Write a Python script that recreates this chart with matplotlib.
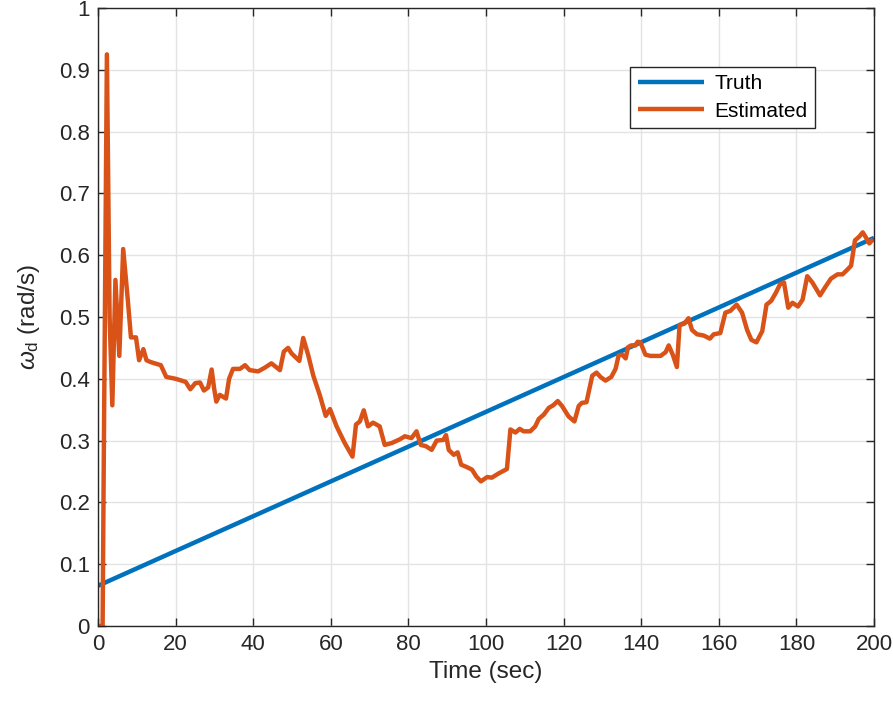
import numpy as np
import matplotlib
matplotlib.use("Agg")
import matplotlib.pyplot as plt

plt.rcParams['font.family'] = ['Liberation Sans', 'DejaVu Sans']
plt.rcParams['mathtext.fontset'] = 'custom'
plt.rcParams['mathtext.it'] = 'Liberation Sans:italic'
plt.rcParams['mathtext.rm'] = 'Liberation Sans'

# truth: straight ramp of the damped frequency
truth_t = [0, 200]
truth_w = [0.065, 0.628]

# estimated frequency
est_t = [0.0, 1.2, 1.5, 2.3, 3.0, 3.7, 4.5, 5.5, 6.5, 7.7, 8.5, 9.8, 10.6, 11.7,
         12.5, 13.6, 16.2, 17.6, 20.0, 22.6, 23.8, 25.1, 26.3, 27.3, 28.4, 29.3,
         29.9, 30.5, 31.4, 33.0, 33.8, 34.8, 36.6, 37.9, 39.1, 41.3, 43.0, 44.7,
         46.9, 47.9, 49.0, 49.9, 51.9, 52.9, 54.2, 55.5, 57.2, 58.7, 59.8, 61.5,
         63.6, 65.6, 66.5, 67.5, 68.5, 69.6, 70.9, 72.6, 73.9, 75.7, 77.8, 79.1,
         80.8, 82.1, 83.2, 84.5, 86.0, 87.3, 89.0, 89.7, 90.4, 91.7, 92.7, 93.6,
         95.1, 96.4, 97.5, 98.7, 100.3, 101.5, 103.3, 105.4, 106.3, 107.6, 108.7,
         109.7, 111.4, 112.7, 113.6, 114.9, 116.2, 117.3, 118.5, 119.6, 121.3,
         122.8, 123.9, 124.7, 125.9, 127.4, 128.5, 129.5, 130.8, 132.3, 133.4,
         134.2, 135.1, 136.0, 136.6, 137.4, 138.5, 139.1, 139.8, 141.1, 142.4,
         145.0, 146.3, 147.1, 148.2, 149.2, 149.9, 151.1, 152.2, 153.1, 154.4,
         156.1, 157.7, 158.7, 160.4, 161.7, 163.0, 164.6, 166.0, 167.3, 168.4,
         169.7, 171.2, 172.3, 173.5, 174.7, 175.8, 176.8, 177.9, 179.0, 180.4,
         181.6, 182.8, 184.1, 186.1, 187.3, 188.9, 190.6, 191.9, 193.2, 194.1,
         195.1, 196.2, 197.1, 197.9, 198.8, 199.8]
est_w = [0.0, 0.0, 0.27, 0.925, 0.50, 0.357, 0.56, 0.437, 0.61, 0.527, 0.467,
         0.467, 0.43, 0.448, 0.43, 0.427, 0.422, 0.403, 0.40, 0.395, 0.383, 0.393,
         0.394, 0.381, 0.386, 0.415, 0.386, 0.363, 0.374, 0.368, 0.40, 0.416,
         0.416, 0.422, 0.414, 0.412, 0.418, 0.425, 0.414, 0.444, 0.45, 0.441,
         0.429, 0.466, 0.438, 0.405, 0.373, 0.34, 0.351, 0.323, 0.296, 0.274,
         0.326, 0.331, 0.349, 0.323, 0.329, 0.323, 0.293, 0.296, 0.302, 0.307,
         0.304, 0.315, 0.293, 0.291, 0.285, 0.30, 0.301, 0.309, 0.285, 0.277,
         0.281, 0.261, 0.257, 0.253, 0.242, 0.234, 0.241, 0.24, 0.247, 0.254,
         0.318, 0.313, 0.319, 0.315, 0.315, 0.323, 0.335, 0.342, 0.353, 0.357,
         0.364, 0.356, 0.339, 0.331, 0.356, 0.361, 0.362, 0.405, 0.41, 0.403,
         0.397, 0.403, 0.416, 0.438, 0.439, 0.433, 0.451, 0.454, 0.454, 0.46,
         0.459, 0.439, 0.437, 0.437, 0.443, 0.454, 0.438, 0.419, 0.487, 0.489,
         0.498, 0.479, 0.472, 0.47, 0.465, 0.472, 0.474, 0.507, 0.51, 0.52,
         0.507, 0.479, 0.463, 0.459, 0.477, 0.52, 0.526, 0.539, 0.553, 0.556,
         0.515, 0.523, 0.517, 0.528, 0.566, 0.556, 0.535, 0.547, 0.562, 0.569,
         0.569, 0.577, 0.583, 0.624, 0.63, 0.637, 0.629, 0.619, 0.626]

fig = plt.figure(figsize=(8.93, 7.02), dpi=100)
ax = fig.add_axes([0.1097, 0.1083, 0.8690, 0.8803])

ax.plot(truth_t, truth_w, color="#0072BD", lw=3.2, label="Truth",
        solid_capstyle="butt")
ax.plot(est_t, est_w, color="#D95319", lw=3.2, label="Estimated",
        solid_joinstyle="round", solid_capstyle="butt")

ax.set_xlim(0, 200)
ax.set_ylim(0, 1)
ax.set_xticks(np.arange(0, 201, 20))
ax.set_yticks(np.arange(0, 1.01, 0.1))
ax.set_yticklabels(["0", "0.1", "0.2", "0.3", "0.4", "0.5", "0.6", "0.7",
                    "0.8", "0.9", "1"])
ax.grid(True, color="#e3e3e3", lw=1.0)
ax.set_axisbelow(True)
ax.tick_params(direction="in", length=6, width=1, colors="#262626",
               labelsize=16, top=True, right=True, pad=6)
for s in ax.spines.values():
    s.set_color("#262626")
    s.set_linewidth(1.0)

ax.set_xlabel("Time (sec)", fontsize=17.5, color="#262626", labelpad=4)
ax.set_ylabel(r"$\omega_\mathrm{d}$ (rad/s)", fontsize=17.5, color="#262626",
              labelpad=12)

leg = ax.legend(loc="upper right", bbox_to_anchor=(0.924, 0.905), fontsize=15,
                fancybox=False, framealpha=1, edgecolor="#262626",
                handlelength=3.2, borderpad=0.35, labelspacing=0.42,
                handletextpad=0.5, borderaxespad=0)
leg.get_frame().set_linewidth(1.0)

plt.savefig("out.png", dpi=100)
